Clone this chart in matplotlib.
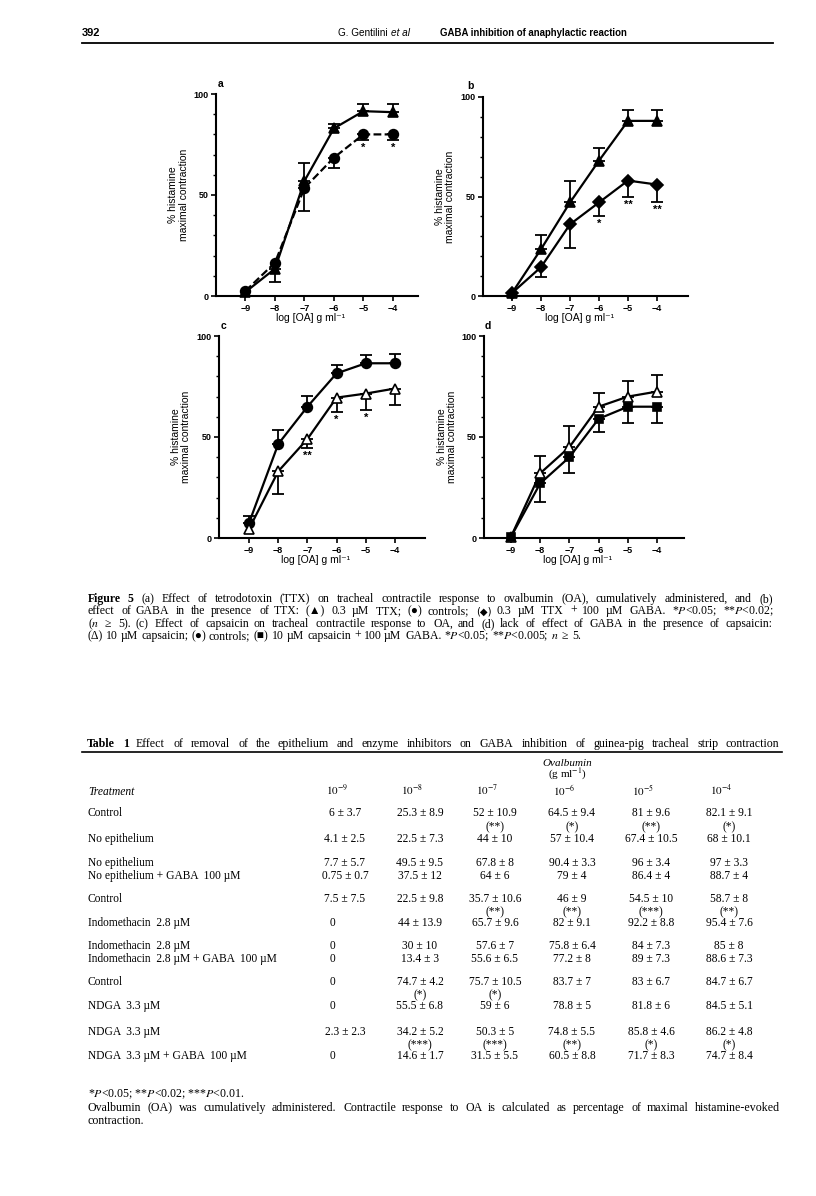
import matplotlib
matplotlib.use('Agg')
import matplotlib.pyplot as plt
from matplotlib.lines import Line2D
from matplotlib import font_manager
from matplotlib.ft2font import FT2Font

W, H = 816, 1196
plt.rcParams['mathtext.fontset'] = 'stix'
SANS = 'Liberation Sans'
SANS_FB = ['Liberation Sans', 'DejaVu Sans']
SERIF = 'Liberation Serif'

# ---------------- data ----------------
log_oa = [-9, -8, -7, -6, -5, -4]

# panel a
a_ttx = [2, 13.5, 57, 83, 91.5, 91]
a_ttx_up = [0, 0, 9, 2, 3.5, 4]
a_ttx_dn = [0, 6.5, 0, 0, 0, 0]
a_ctrl = [2.5, 16.5, 53.5, 68.5, 80, 80]
a_ctrl_up = [0, 0, 0, 0, 0, 0]
a_ctrl_dn = [0, 0, 11.5, 5, 3, 3]
a_sig = ['', '', '', '', '*', '*']

# panel b
b_ttx = [1.5, 23.5, 47, 68, 88, 88]
b_ttx_up = [0, 7, 11, 6.5, 5.5, 5.5]
b_ttx_dn = [0, 0, 0, 0, 0, 0]
b_gaba = [1.5, 14.5, 36, 47, 58, 56]
b_gaba_up = [0, 0, 0, 0, 0, 0]
b_gaba_dn = [0, 5, 12, 7, 8.5, 9]
b_sig = ['', '', '', '*', '**', '**']

# panel c
c_ctrl = [7.5, 46.5, 65, 81.5, 86.5, 86.5]
c_ctrl_up = [3.5, 7, 5.5, 4, 4, 4.5]
c_ctrl_dn = [0, 0, 0, 0, 0, 0]
c_caps = [4.5, 33, 49, 69.5, 71.5, 74]
c_caps_up = [0, 0, 0, 0, 0, 0]
c_caps_dn = [0, 11, 4.5, 7, 8, 8]
c_sig = ['', '', '**', '*', '*', '']

# panel d
d_caps = [0.5, 32, 45, 65, 70, 72.5]
d_caps_up = [0, 8.5, 10.5, 7, 7.5, 8]
d_caps_dn = [0, 0, 0, 0, 0, 0]
d_gaba = [0.5, 27, 40, 59, 65, 65]
d_gaba_up = [0, 0, 0, 0, 0, 0]
d_gaba_dn = [0, 9, 8, 6.5, 8, 8]

# table
conc_labels = [r'$\mathit{10^{-9}}$', r'$\mathit{10^{-8}}$', r'$\mathit{10^{-7}}$',
               r'$\mathit{10^{-6}}$', r'$\mathit{10^{-5}}$', r'$\mathit{10^{-4}}$']
row_labels = [
    'Control', '', 'No epithelium',
    'No epithelium', 'No epithelium + GABA  100 µM',
    'Control', '', 'Indomethacin  2.8 µM',
    'Indomethacin  2.8 µM', 'Indomethacin  2.8 µM + GABA  100 µM',
    'Control', '', 'NDGA  3.3 µM',
    'NDGA  3.3 µM', '', 'NDGA  3.3 µM + GABA  100 µM',
]
row_values = [
    ['6 ± 3.7', '25.3 ± 8.9', '52 ± 10.9', '64.5 ± 9.4', '81 ± 9.6', '82.1 ± 9.1'],
    ['', '', '(**)', '(*)', '(**)', '(*)'],
    ['4.1 ± 2.5', '22.5 ± 7.3', '44 ± 10', '57 ± 10.4', '67.4 ± 10.5', '68 ± 10.1'],
    ['7.7 ± 5.7', '49.5 ± 9.5', '67.8 ± 8', '90.4 ± 3.3', '96 ± 3.4', '97 ± 3.3'],
    ['0.75 ± 0.7', '37.5 ± 12', '64 ± 6', '79 ± 4', '86.4 ± 4', '88.7 ± 4'],
    ['7.5 ± 7.5', '22.5 ± 9.8', '35.7 ± 10.6', '46 ± 9', '54.5 ± 10', '58.7 ± 8'],
    ['', '', '(**)', '(**)', '(***)', '(**)'],
    ['0', '44 ± 13.9', '65.7 ± 9.6', '82 ± 9.1', '92.2 ± 8.8', '95.4 ± 7.6'],
    ['0', '30 ± 10', '57.6 ± 7', '75.8 ± 6.4', '84 ± 7.3', '85 ± 8'],
    ['0', '13.4 ± 3', '55.6 ± 6.5', '77.2 ± 8', '89 ± 7.3', '88.6 ± 7.3'],
    ['0', '74.7 ± 4.2', '75.7 ± 10.5', '83.7 ± 7', '83 ± 6.7', '84.7 ± 6.7'],
    ['', '(*)', '(*)', '', '', ''],
    ['0', '55.5 ± 6.8', '59 ± 6', '78.8 ± 5', '81.8 ± 6', '84.5 ± 5.1'],
    ['2.3 ± 2.3', '34.2 ± 5.2', '50.3 ± 5', '74.8 ± 5.5', '85.8 ± 4.6', '86.2 ± 4.8'],
    ['', '(***)', '(***)', '(**)', '(*)', '(*)'],
    ['0', '14.6 ± 1.7', '31.5 ± 5.5', '60.5 ± 8.8', '71.7 ± 8.3', '74.7 ± 8.4'],
]

caption_lines = [
    'Figure 5  (a) Effect of tetrodotoxin (TTX) on tracheal contractile response to ovalbumin (OA), cumulatively administered, and (b)',
    'effect of GABA in the presence of TTX: (▲) 0.3 µM TTX; (●) controls; (◆) 0.3 µM TTX + 100 µM GABA. *$P$<0.05; **$P$<0.02;',
    '($n$ ≥ 5). (c) Effect of capsaicin on tracheal contractile response to OA, and (d) lack of effect of GABA in the presence of capsaicin:',
    '(Δ) 10 µM capsaicin; (●) controls; (■) 10 µM capsaicin + 100 µM GABA. *$P$<0.05; **$P$<0.005; $n$ ≥ 5.',
]
table_title = 'Table 1  Effect of removal of the epithelium and enzyme inhibitors on GABA inhibition of guinea-pig tracheal strip contraction'
foot_lines = [
    '*$P$<0.05; **$P$<0.02; ***$P$<0.01.',
    'Ovalbumin (OA) was cumulatively administered. Contractile response to OA is calculated as percentage of maximal histamine-evoked',
    'contraction.',
]

# ---------------- figure ----------------
fig = plt.figure(figsize=(W / 100, H / 100), dpi=100)
renderer = fig.canvas.get_renderer()

_serif_font = FT2Font(font_manager.findfont(font_manager.FontProperties(family=SERIF)))


def has_glyphs(s):
    plain = ''.join(s.split('$')[0::2])
    return all(_serif_font.get_char_index(ord(c)) != 0 for c in plain if c != ' ')


def fx(x):
    return x / W


def fy(y):
    return 1 - y / H


def T(x, y, s, **kw):
    kw.setdefault('va', 'center')
    kw.setdefault('family', SERIF)
    kw.setdefault('fontsize', 8.3)
    return fig.text(fx(x), fy(y), s, **kw)


def B(x, y, s, **kw):
    """serif text on a baseline; y is the visual centre of the line"""
    kw['va'] = 'baseline'
    if not has_glyphs(s):
        kw['family'] = 'DejaVu Sans'
        kw['fontsize'] = kw.get('fontsize', 8.3) * 0.85
    return T(x, round(y) + 4, s, **kw)


def hline(x0, x1, y, lw=1.2):
    fig.add_artist(Line2D([fx(x0), fx(x1)], [fy(y), fy(y)], transform=fig.transFigure,
                          color='k', lw=lw))


def words_line(line, x0, y, x1=None, bold_words=0, **kw):
    words = [w for w in line.split(' ') if w != '']
    texts = []
    for i, w in enumerate(words):
        t = B(0, y, w, weight='bold' if i < bold_words else 'normal', **kw)
        texts.append(t)
    widths = [t.get_window_extent(renderer).width for t in texts]
    if x1 is None:
        gap = 0.26 * kw.get('fontsize', 8.3) * 100 / 72
    else:
        gap = (x1 - x0 - sum(widths)) / (len(words) - 1)
    x = x0
    for t, w in zip(texts, widths):
        t.set_x(fx(round(x)))
        x += w + gap


def rect(x0, y0, x1, y1):
    return [fx(x0), fy(y1), (x1 - x0) / W, (y1 - y0) / H]


def series(ax, y, up, dn, marker, ls, mfc, ms=6.5):
    idx = [i for i in range(len(y)) if up[i] > 0 or dn[i] > 0]
    ax.errorbar([log_oa[i] for i in idx], [y[i] for i in idx],
                yerr=[[dn[i] for i in idx], [up[i] for i in idx]],
                fmt='none', ecolor='k', elinewidth=1.3, capsize=4.5, capthick=1.3,
                zorder=2, clip_on=False)
    ax.plot(log_oa, y, color='k', lw=1.6, ls=ls, marker=marker, ms=ms,
            mfc=mfc, mec='k', mew=1.2, zorder=3, clip_on=False)


def stars(ax, y, dn, sig):
    for i, s in enumerate(sig):
        if s:
            ax.annotate(s, (log_oa[i], y[i] - dn[i]), xytext=(0, -2),
                        textcoords='offset points', ha='center', va='top',
                        fontsize=8, family=SANS, weight='bold')


def style(ax, xlim, letter, lx, ly):
    ax.set_xlim(*xlim)
    ax.set_ylim(0, 100)
    for s in ('top', 'right'):
        ax.spines[s].set_visible(False)
    for s in ('left', 'bottom'):
        ax.spines[s].set_linewidth(1.5)
    ax.set_xticks(log_oa)
    ax.set_yticks([0, 50, 100])
    ax.set_yticks(list(range(10, 100, 10)), minor=True)
    ax.tick_params(axis='both', which='major', length=3.5, width=1.2, labelsize=6.5, pad=2)
    ax.tick_params(axis='y', which='minor', length=2.5, width=1.0)
    for lab in ax.get_xticklabels() + ax.get_yticklabels():
        lab.set_family(SANS)
        lab.set_weight('bold')
    ax.set_ylabel('% histamine\nmaximal contraction', fontsize=7.5, family=SANS,
                  linespacing=1.05, va='center')
    ax.yaxis.set_label_coords(-0.185, 0.5)
    ax.set_xlabel('log [OA] g ml⁻¹', fontsize=7.5, family=SANS_FB, va='center')
    ax.xaxis.set_label_coords(0.47, -0.11)
    T(lx, ly, letter, family=SANS, weight='bold', fontsize=7.5)


axa = fig.add_axes(rect(216, 94, 418, 296))
series(axa, a_ttx, a_ttx_up, a_ttx_dn, '^', '-', 'k', ms=7)
series(axa, a_ctrl, a_ctrl_up, a_ctrl_dn, 'o', (0, (3.5, 1.5)), 'k', ms=7)
stars(axa, a_ctrl, a_ctrl_dn, a_sig)
style(axa, (-10.0, -3.15), 'a', 218, 84)

axb = fig.add_axes(rect(483, 97, 688, 296))
series(axb, b_ttx, b_ttx_up, b_ttx_dn, '^', '-', 'k', ms=7)
series(axb, b_gaba, b_gaba_up, b_gaba_dn, 'D', '-', 'k', ms=6.5)
stars(axb, b_gaba, b_gaba_dn, b_sig)
style(axb, (-10.0, -2.93), 'b', 467, 86)

axc = fig.add_axes(rect(219, 336, 425, 538))
series(axc, c_ctrl, c_ctrl_up, c_ctrl_dn, 'o', '-', 'k', ms=7)
series(axc, c_caps, c_caps_up, c_caps_dn, '^', '-', 'white', ms=7.5)
stars(axc, c_caps, c_caps_dn, c_sig)
style(axc, (-10.03, -2.97), 'c', 221, 326)

axd = fig.add_axes(rect(484, 336, 684, 538))
series(axd, d_caps, d_caps_up, d_caps_dn, '^', '-', 'white', ms=7.5)
series(axd, d_gaba, d_gaba_up, d_gaba_dn, 's', '-', 'k', ms=6)
style(axd, (-9.92, -3.08), 'd', 485, 326)

# ---------------- header ----------------
T(82, 33, '392', family=SANS, weight='bold', fontsize=8)
t_auth = T(338, 33, 'G. Gentilini', family=SANS, fontsize=7.2)
w_auth = t_auth.get_window_extent(renderer).width
T(338 + w_auth + 3, 33, 'et al', family=SANS, fontsize=7.2, style='italic')
T(440, 33, 'GABA inhibition of anaphylactic reaction', family=SANS, weight='bold', fontsize=6.9)
hline(82, 773, 43, lw=1.3)

# ---------------- caption ----------------
cap_y = [598, 610, 623, 635]
for i, line in enumerate(caption_lines):
    if i < 3:
        words_line(line, 88, cap_y[i], x1=773, bold_words=2 if i == 0 else 0, fontsize=8.5)
    else:
        words_line(line, 88, cap_y[i], fontsize=8.5)

# ---------------- table ----------------
words_line(table_title, 87, 743, x1=780, bold_words=2, fontsize=8.6)
hline(82, 782, 752, lw=1.2)
B(567, 762, 'Ovalbumin', ha='center', style='italic', fontsize=8)
B(567, 774, '(g ml$^{-1}$)', ha='center', fontsize=8)
B(88, 791, 'Treatment', style='italic')
col_x = [345, 420, 495, 572, 651, 729]
for cx, lab in zip(col_x, conc_labels):
    B(cx - 8, 791, lab, ha='center', fontsize=8)

row_y = [812, 826, 838, 862, 875, 898, 911, 922, 945, 958, 981, 994, 1005, 1031, 1044, 1055]
for lab, vals, ry in zip(row_labels, row_values, row_y):
    if lab:
        B(88, ry, lab)
    for cx, v in zip(col_x, vals):
        if v:
            xx = cx - 12 if v == '0' else cx
            B(xx, ry, v, ha='center')

B(88, 1093, foot_lines[0], fontsize=8.6)
words_line(foot_lines[1], 88, 1107, x1=780, fontsize=8.6)
B(88, 1120, foot_lines[2], fontsize=8.6)

fig.savefig('out.png', dpi=100)
